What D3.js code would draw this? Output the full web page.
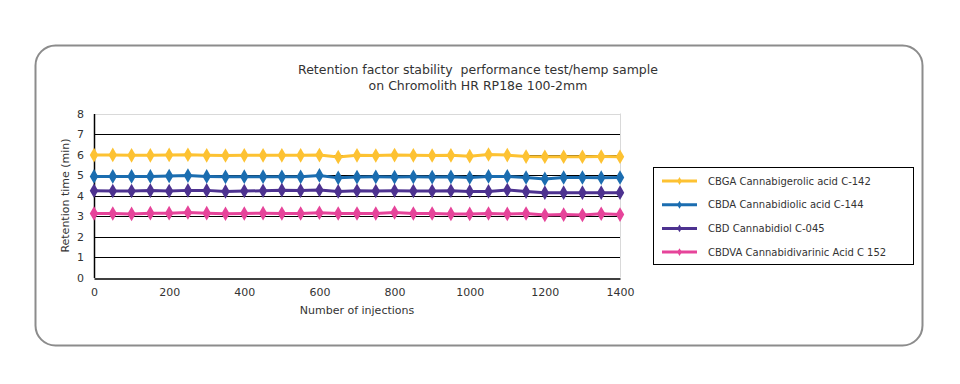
<!DOCTYPE html>
<html>
<head>
<meta charset="utf-8">
<script src="https://cdn.jsdelivr.net/npm/d3@7"></script>
<style>
  body { margin: 0; background: #fff; }
  svg text { font-family: Verdana, "DejaVu Sans", sans-serif; fill: #333; white-space: pre; }
</style>
</head>
<body>
<div id="chart"></div>
<script>
// Injektionen (x-Werte)
const injections = d3.range(0, 1401, 50)

const seriesNames = [
    "CBGA Cannabigerolic acid C-142",
    "CBDA Cannabidiolic acid C-144",
    "CBD Cannabidiol C-045",
    "CBDVA Cannabidivarinic Acid C 152"
]
const seriesColors = ["#fdc232", "#1b6db0", "#4d3290", "#e6449a"]

const cbga = [5.97, 5.98, 5.96, 5.96, 5.98, 5.99, 5.96, 5.95, 5.96, 5.96,
    5.96, 5.96, 5.97, 5.88, 5.96, 5.95, 5.97, 5.96, 5.95,
    5.96, 5.92, 6.00, 5.97, 5.90, 5.89, 5.89, 5.89, 5.90, 5.89]
const cbda = [4.93, 4.93, 4.93, 4.93, 4.95, 4.97, 4.93, 4.91, 4.92, 4.92,
    4.91, 4.91, 4.98, 4.86, 4.90, 4.91, 4.90, 4.91, 4.90,
    4.91, 4.88, 4.93, 4.93, 4.88, 4.81, 4.88, 4.88, 4.87, 4.88]
const cbd = [4.23, 4.22, 4.22, 4.24, 4.22, 4.25, 4.25, 4.20, 4.22, 4.23,
    4.26, 4.24, 4.27, 4.20, 4.23, 4.22, 4.23, 4.22, 4.22,
    4.23, 4.20, 4.20, 4.27, 4.19, 4.14, 4.14, 4.14, 4.14, 4.14]
const cbdva = [3.12, 3.12, 3.10, 3.14, 3.14, 3.17, 3.14, 3.11, 3.12, 3.14,
    3.12, 3.12, 3.16, 3.12, 3.12, 3.12, 3.17, 3.12, 3.12,
    3.10, 3.10, 3.12, 3.10, 3.12, 3.05, 3.07, 3.05, 3.11, 3.07]

const xTicks = [0, 200, 400, 600, 800, 1000, 1200, 1400]
const yTicks = [0, 1, 2, 3, 4, 5, 6, 7, 8]

const allSeries = [cbga, cbda, cbd, cbdva]

const width = 960
const height = 384
const plot = {left: 94, right: 620, top: 113.5, bottom: 277.5}
const font = "Verdana, 'DejaVu Sans', sans-serif"

let svg = d3.select("#chart")
    .append("svg")
    .attr("width", width)
    .attr("height", height)

// Rahmen mit runden Ecken
svg.append("rect")
    .attr("x", 35.5)
    .attr("y", 45.5)
    .attr("width", 887)
    .attr("height", 300)
    .attr("rx", 20)
    .attr("fill", "#fff")
    .attr("stroke", "#8c8c8c")
    .attr("stroke-width", 2)

// Titel
svg.append("text")
    .attr("x", 478)
    .attr("y", 74)
    .attr("text-anchor", "middle")
    .attr("font-size", "12.5px")
    .text("Retention factor stability  performance test/hemp sample")
svg.append("text")
    .attr("x", 478)
    .attr("y", 90)
    .attr("text-anchor", "middle")
    .attr("font-size", "12.5px")
    .text("on Chromolith HR RP18e 100-2mm")

var x = d3.scaleLinear()
    .domain([0, 1400])
    .range([plot.left, plot.right])

var y = d3.scaleLinear()
    .domain([0, 8])
    .range([plot.bottom, plot.top])

// Gitterlinien
svg.append("g")
    .selectAll("line")
    .data(yTicks.filter(d => d > 0))
    .enter().append("line")
    .attr("x1", plot.left)
    .attr("x2", plot.right)
    .attr("y1", d => Math.round(y(d)) + 0.5)
    .attr("y2", d => Math.round(y(d)) + 0.5)
    .attr("stroke", d => d === 8 ? "#d9d9d9" : "#000")
    .attr("stroke-width", 1)

svg.append("line")
    .attr("x1", plot.right + 0.5).attr("x2", plot.right + 0.5)
    .attr("y1", plot.top).attr("y2", plot.bottom)
    .attr("stroke", "#d9d9d9")

// Achsen
svg.append("g")
    .attr("class", "axis axis--x")
    .attr("transform", "translate(0," + (Math.round(plot.bottom) + 0.5) + ")")
    .call(d3.axisBottom(x).tickValues(xTicks).tickFormat(d3.format("d")).tickSize(0).tickPadding(10))
    .call(g => g.select(".domain").attr("stroke", "#000").attr("stroke-width", 1.5))
    .call(g => g.selectAll("text").attr("font-size", "11px").attr("fill", "#333").attr("font-family", font))

svg.append("g")
    .attr("class", "axis axis--y")
    .attr("transform", "translate(" + plot.left + ",0)")
    .call(d3.axisLeft(y).tickValues(yTicks).tickSize(0).tickPadding(10))
    .call(g => g.select(".domain").attr("stroke", "#000").attr("stroke-width", 1.5))
    .call(g => g.selectAll("text").attr("font-size", "11px").attr("fill", "#333").attr("font-family", font))

// Achsenbeschriftungen
svg.append("text")
    .attr("text-anchor", "middle")
    .attr("x", (plot.left + plot.right) / 2)
    .attr("y", 314)
    .attr("font-size", "11px")
    .text("Number of injections")

svg.append("text")
    .attr("text-anchor", "middle")
    .attr("transform", "translate(69," + ((plot.top + plot.bottom) / 2) + ") rotate(-90)")
    .attr("font-size", "11px")
    .text("Retention time (min)")

// Linien und Marker
const line = d3.line()
    .x((d, i) => x(injections[i]))
    .y(d => y(d))

const diamond = d3.symbol().type(d3.symbolDiamond).size(62)

allSeries.forEach(function (values, k) {
    let g = svg.append("g")
    g.append("path")
        .datum(values)
        .attr("d", line)
        .attr("fill", "none")
        .attr("stroke", seriesColors[k])
        .attr("stroke-width", 3)
    g.selectAll("path.pt")
        .data(values)
        .enter().append("path")
        .attr("class", "pt")
        .attr("d", diamond)
        .attr("transform", (d, i) => "translate(" + x(injections[i]) + "," + y(d) + ")")
        .attr("fill", seriesColors[k])
})

// Legende
svg.append("rect")
    .attr("x", 653.5)
    .attr("y", 167.5)
    .attr("width", 260)
    .attr("height", 97)
    .attr("fill", "#fff")
    .attr("stroke", "#000")
    .attr("stroke-width", 1)

let legend = svg.append("g")
    .selectAll("g")
    .data(seriesNames)
    .enter().append("g")
    .attr("transform", (d, i) => "translate(662," + (181 + i * 23.7) + ")")

legend.append("line")
    .attr("x1", 0).attr("x2", 35)
    .attr("stroke", (d, i) => seriesColors[i])
    .attr("stroke-width", 3)
legend.append("path")
    .attr("d", d3.symbol().type(d3.symbolDiamond).size(18))
    .attr("transform", "translate(17.5,0)")
    .attr("fill", (d, i) => seriesColors[i])
legend.append("text")
    .attr("x", 46)
    .attr("dy", "0.35em")
    .attr("font-size", "10px")
    .text(d => d)
</script>
</body>
</html>
